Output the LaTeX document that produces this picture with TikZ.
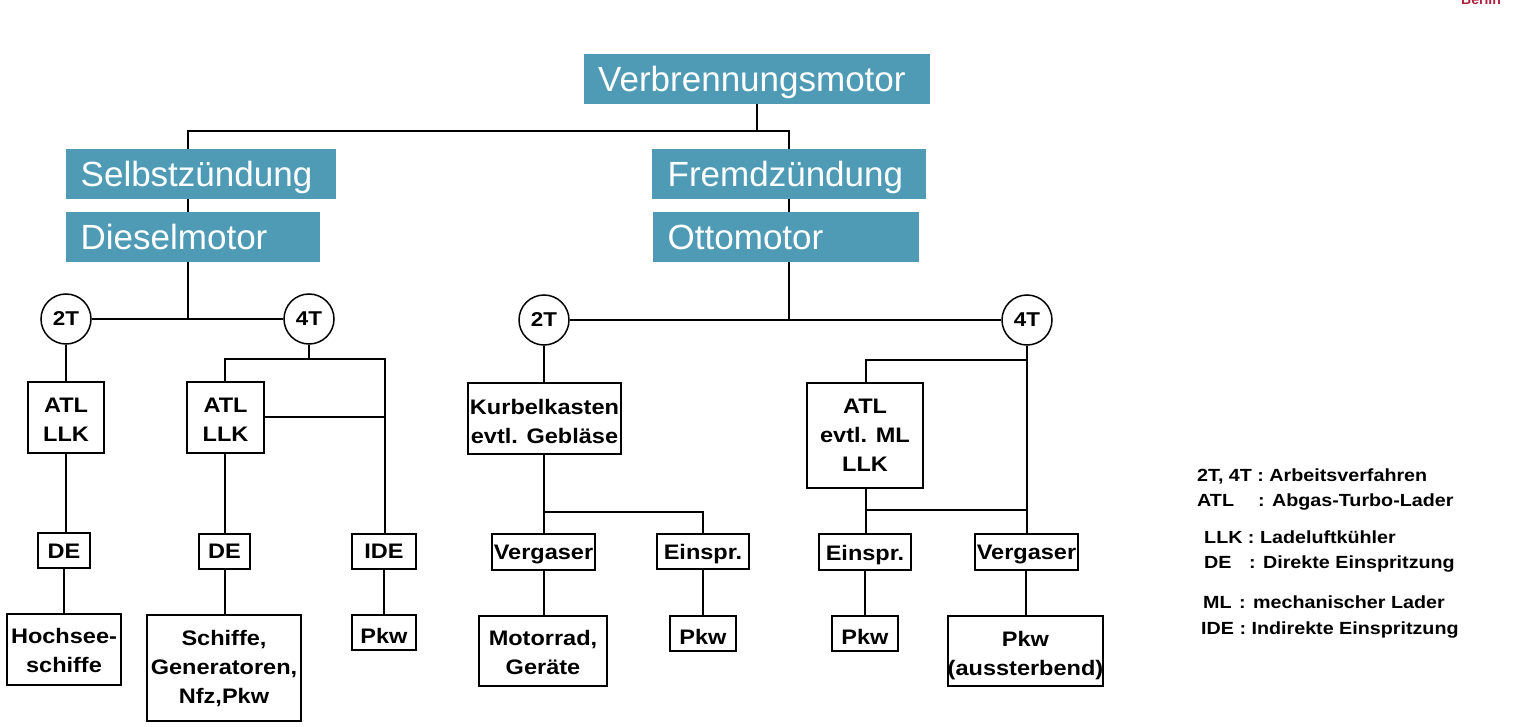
\documentclass[tikz,border=0pt]{standalone}
\usepackage{fontspec}
\setmainfont{Liberation Sans}
\newfontfamily\scan[FakeStretch=1.12,UprightFont={* Bold}]{Liberation Sans}
\usetikzlibrary{calc}
\definecolor{headblue}{HTML}{4F9BB6}
\definecolor{tured}{HTML}{B0213F}
\tikzset{
  x=1pt,y=-1pt,
  conn/.style={line width=1.5pt,black},
  head/.style={fill=headblue,inner sep=0pt},
  headtext/.style={text=white,inner sep=0pt,anchor=base west,font=\fontsize{35}{35}\selectfont},
  scanbox/.style={draw=black,line width=1.6pt,fill=white,inner sep=0pt},
  scantext/.style={inner sep=0pt,align=center,font=\scan\fontsize{21}{29}\selectfont},
  takt/.style={draw=black,line width=1.5pt,fill=white,circle,minimum size=50pt,inner sep=0pt,font=\scan\fontsize{20}{20}\selectfont},
  legend/.style={anchor=base west,inner sep=0pt,font=\scan\fontsize{17.6}{18}\selectfont},
}
% name, x0, x1, y0, y1, text x, text baseline y, text
\newcommand{\hd}[8]{\node[head,minimum width=#3pt-#2pt,minimum height=#5pt-#4pt] (#1) at ({(#2+#3)/2},{(#4+#5)/2}) {};
\node[headtext] (#1t) at (#6,#7) {#8};}
\newcommand{\bx}[7][2]{\node[scanbox,minimum width=#3pt-#2pt,minimum height=#5pt-#4pt] (#6) at ({(#2+#3)/2},{(#4+#5)/2}) {};
\node[scantext,yshift=-#1pt] (#6t) at (#6.center) {#7};}
\begin{document}
\begin{tikzpicture}
\clip (0,0) rectangle (1516,727);
\fill[white] (0,0) rectangle (1516,727);
\node[anchor=base,inner sep=0pt,text=tured,font=\bfseries\fontsize{14}{14}\selectfont] (tu) at (1481,5) {Berlin};

\hd{root}{584}{930}{54}{104}{598}{92}{Verbrennungsmotor}
\hd{selbst}{66}{336}{149}{199}{80.5}{187}{Selbstzündung}
\hd{diesel}{66}{320}{212}{262}{80.5}{250}{Dieselmotor}
\hd{fremd}{652}{926}{149}{199}{667.5}{187}{Fremdzündung}
\hd{otto}{653}{919}{212}{262}{667.5}{250}{Ottomotor}

\node[takt] (dzwei) at (66,319) {2T};
\node[takt] (dvier) at (309,319) {4T};
\node[takt] (ozwei) at (544,320) {2T};
\node[takt] (ovier) at (1027,320) {4T};

\bx{28}{104}{382}{453}{atlA}{ATL\\LLK}
\bx{187}{264}{382}{453}{atlB}{ATL\\LLK}
\bx[1]{38}{90}{533}{568}{deA}{DE}
\bx[0]{199}{250}{534}{569}{deB}{DE}
\bx[0]{352}{416}{534}{569}{ide}{IDE}
\bx[1]{7}{121}{614}{685}{hoch}{Hochsee-\\schiffe}
\bx[1]{147}{301}{615}{721}{schiffe}{Schiffe,\\Generatoren,\\Nfz,Pkw}
\bx[3]{352}{416}{615}{650}{pkwA}{Pkw}

\bx[2.5]{468}{621}{383}{454}{kurbel}{Kurbelkasten\\evtl. Gebläse}
\bx[0]{807}{923}{383}{488}{atlC}{ATL\\evtl. ML\\LLK}
\bx{492}{595}{534}{570}{vergA}{Vergaser}
\bx[3]{657}{749}{534}{569}{einA}{Einspr.}
\bx[3]{819}{911}{534}{570}{einB}{Einspr.}
\bx{975}{1078}{534}{570}{vergB}{Vergaser}
\bx[1]{479}{607}{616}{686}{motor}{Motorrad,\\Geräte}
\bx[3]{670}{736}{616}{651}{pkwB}{Pkw}
\bx[3]{832}{898}{616}{651}{pkwC}{Pkw}
\bx[4.5]{948}{1103}{616}{686}{pkwD}{Pkw\\(aussterbend)}

\coordinate (jroot) at (757,131);
\coordinate (jdiesel) at (188,318);
\coordinate (jotto) at (789,320);
\coordinate (jdv) at (309,359);
\coordinate (jdl) at (225,359);
\coordinate (jdr) at (385,359);
\coordinate (jdm) at (385,417);
\coordinate (jkurbel) at (544,512);
\coordinate (jov) at (1027,360);
\coordinate (jatl) at (866,510);
\coordinate (jverg) at (1027,510);

\draw[conn] (root.south -| jroot) -- (jroot);
\draw[conn] (selbst.north -| jdiesel) |- (jroot) -| (fremd.north -| jotto);
\draw[conn] (selbst.south -| jdiesel) -- (diesel.north -| jdiesel);
\draw[conn] (fremd.south -| jotto) -- (otto.north -| jotto);
\draw[conn] (diesel.south -| jdiesel) -- (jdiesel);
\draw[conn,line width=2pt] (otto.south -| jotto) -- (jotto);
\draw[conn] (dzwei) -- (dvier);
\draw[conn] (ozwei) -- (ovier);

\draw[conn,line width=2pt] (dzwei) -- (dzwei |- atlA.north);
\draw[conn] (atlA.south) -- (atlA.south |- deA.north);
\draw[conn] (deA.south) -- (deA.south |- hoch.north);
\draw[conn] (dvier) -- (jdv);
\draw[conn] (atlB.north -| jdl) -- (jdl) -- (jdr) -- (jdr |- ide.north);
\draw[conn] (atlB.east |- jdm) -- (jdm);
\draw[conn] (atlB.south -| jdl) -- (deB.north -| jdl);
\draw[conn] (deB.south -| jdl) -- (schiffe.north -| jdl);
\draw[conn] (ide.south) -- (pkwA.north);

\draw[conn] (ozwei) -- (kurbel.north -| ozwei);
\draw[conn] (kurbel.south -| ozwei) -- (vergA.north -| ozwei);
\draw[conn] (jkurbel) -| (einA.north);
\draw[conn] (vergA.south -| ozwei) -- (motor.north -| ozwei);
\draw[conn] (einA.south) -- (pkwB.north);
\draw[conn] (ovier) -- (vergB.north -| ovier);
\draw[conn] (jov) -| (atlC.north -| jatl);
\draw[conn] (atlC.south -| jatl) -- (einB.north -| jatl);
\draw[conn] (jatl) -- (jverg);
\draw[conn] (einB.south) -- (pkwC.north);
\draw[conn,line width=2pt] (vergB.south -| pkwD.north) -- (pkwD.north);

\node[legend] (la) at (1197,481) {2T, 4T : Arbeitsverfahren};
\node[legend] (lb) at (1197,506) {\makebox[61pt][l]{ATL}: Abgas-Turbo-Lader};
\node[legend] (lc) at (1204,543) {LLK : Ladeluftkühler};
\node[legend] (ld) at (1204,568) {\makebox[45pt][l]{DE}: Direkte Einspritzung};
\node[legend] (le) at (1203,608) {\makebox[36pt][l]{ML}: mechanischer Lader};
\node[legend] (lf) at (1201,634) {IDE : Indirekte Einspritzung};
\end{tikzpicture}
\end{document}
